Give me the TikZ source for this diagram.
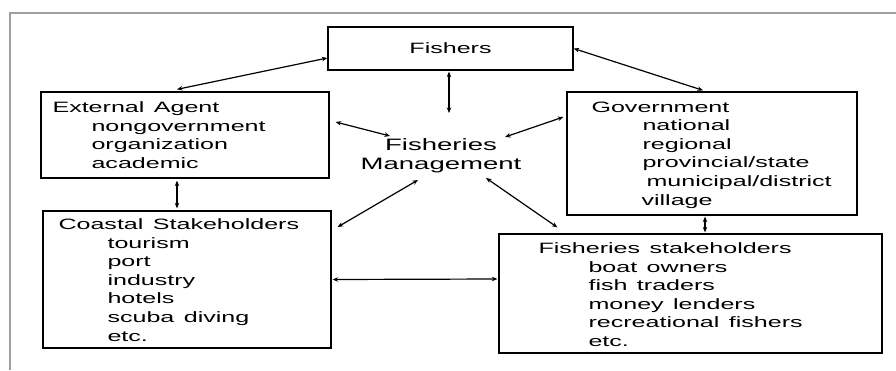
\documentclass[tikz,border=0pt]{standalone}
\usepackage{fontspec}
\setmainfont{Liberation Sans}[FakeStretch=1.67]
\usetikzlibrary{arrows.meta}

\begin{document}
\begin{tikzpicture}[x=1pt,y=-1pt,
    box/.style 2 args={draw, line width=1.3pt, minimum width=#1, minimum height=#2, inner sep=0pt},
    txt/.style={align=left, anchor=north west, inner sep=0pt, font=\fontsize{15}{18.6}\selectfont},
    link/.style={{Stealth[length=5.5pt,width=4.5pt]}-{Stealth[length=5.5pt,width=4.5pt]}, line width=1.2pt}]
    \useasboundingbox (0,0) rectangle (896,370);
    \draw[gray!75, line width=1.4pt] (10,370) -- (10,13) -- (896,13);

    \node[box={245pt}{43pt}, font=\fontsize{15}{18.6}\selectfont] (fishers) at (450.5,48.5) {Fishers};
    \node[box={288pt}{86pt}] (ext) at (185,135) {};
    \node[box={290pt}{123pt}] (gov) at (712,153.5) {};
    \node[box={288pt}{137pt}] (coast) at (187,279.5) {};
    \node[box={383pt}{119pt}] (fstake) at (690.5,293.5) {};
    \node[align=center, font=\fontsize{16.5}{19}\selectfont] (mgmt) at (441,155.5) {Fisheries\\Management};

    \node[txt] (exttxt) at ([shift={(12,10)}]ext.north west)
        {External\, Agent\\\hspace*{39pt}nongovernment\\\hspace*{39pt}organization\\\hspace*{39pt}academic};
    \node[txt] (govtxt) at ([shift={(25,10)}]gov.north west)
        {Government\\\hspace*{51pt}national\\\hspace*{51pt}regional\\\hspace*{51pt}provincial/state\\\hspace*{55pt}municipal/district\\\hspace*{50pt}village};
    \node[txt] (coasttxt) at ([shift={(16,8)}]coast.north west)
        {Coastal\, Stakeholders\\\hspace*{49pt}tourism\\\hspace*{49pt}port\\\hspace*{49pt}industry\\\hspace*{49pt}hotels\\\hspace*{49pt}scuba\, diving\\\hspace*{49pt}etc.};
    \node[txt] (fstaketxt) at ([shift={(40,9)}]fstake.north west)
        {Fisheries\, stakeholders\\\hspace*{50pt}boat\, owners\\\hspace*{50pt}fish\, traders\\\hspace*{50pt}money\, lenders\\\hspace*{50pt}recreational\, fishers\\\hspace*{50pt}etc.};

    \draw[link] ([shift={(0,9.5)}]fishers.west) -- ([shift={(-8,-2)}]ext.north);
    \draw[link] (fishers.east) -- ([shift={(-9,-1)}]gov.north);
    \draw[link] ([shift={(-1.5,1)}]fishers.south) -- ([shift={(8,-42.5)}]mgmt.center);
    \draw[link] ([shift={(6,-13)}]ext.east) -- ([shift={(-51,-19.5)}]mgmt.center);
    \draw[link] ([shift={(64,-18.5)}]mgmt.center) -- ([shift={(-3,-36.5)}]gov.west);
    \draw[link] ([shift={(-23,24.5)}]mgmt.center) -- ([shift={(6,-52.5)}]coast.east);
    \draw[link] ([shift={(45,22.5)}]mgmt.center) -- ([shift={(59,-6)}]fstake.north west);
    \draw[link] ([shift={(-8,2)}]ext.south) -- ([shift={(-10,-2)}]coast.north);
    \draw[link] ([shift={(-7,1)}]gov.south) -- ([shift={(14.5,-1)}]fstake.north);
    \draw[link] ([shift={(1,0)}]coast.east) -- ([shift={(-1,-14.5)}]fstake.west);
\end{tikzpicture}
\end{document}
